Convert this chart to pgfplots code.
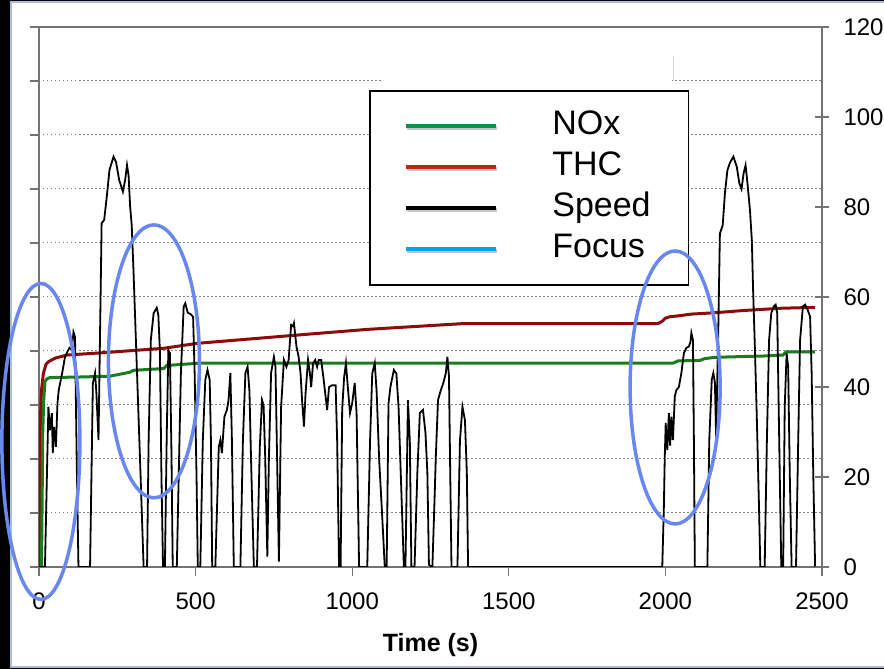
\documentclass[border=0pt]{standalone}
\usepackage{pgfplots}
\usepackage{pgfplotstable}
\pgfplotsset{compat=1.18}
\usepackage{fontspec}
\setmainfont{Liberation Sans}
\definecolor{noxc}{RGB}{25,125,30}
\definecolor{thcc}{RGB}{140,12,12}
\definecolor{legnox}{RGB}{16,144,72}
\definecolor{legthc}{RGB}{192,36,12}
\definecolor{legfoc}{RGB}{0,160,240}
\definecolor{ellc}{RGB}{105,135,240}
\definecolor{framec}{RGB}{165,190,220}
\definecolor{axc}{RGB}{115,115,115}
\definecolor{gridc}{RGB}{130,130,130}

\pgfplotstableread{
t v
0 0
19 0
30 35.6
35 30.4
41 34.2
44 25.3
48 31.1
54 26.7
59 36.4
63 39.3
74 43.1
83 46.7
97 48.7
105 48.2
110 52.2
115 51.1
121 20.9
126 0
163 0
172 40.9
179 43.1
183 39
190 28.2
200 76.4
208 77.1
216 82
225 88.2
238 91.2
246 90
256 86
268 83.4
275 86
281 89.3
286 87
291 80.1
296 76
302 65.3
313 43.1
324 21
334 0
345 0
350 28
357 50.4
366 56.4
376 57.6
381 56
386 48
391 20
396 0
402 0
408 30
413 48.2
418 47.5
423 25
427 0
440 0
453 43
462 57.9
467 58.6
475 56.5
484 56.2
492 55.6
497 43
503 20
507 0
515 0
523 28
531 41.6
538 43.8
545 41.6
549 28
553 0
563 0
574 26.7
579 28.2
584 25.3
592 33.4
600 34.9
605 37
611 43.1
616 28
622 0
643 0
651 28
659 43.1
666 44.5
672 39
677 24
686 0
696 0
705 26.7
712 37.1
717 36
722 25
729 2.3
734 24
741 43.1
750 46.7
755 44.5
761 21
766 1.2
773 35.6
782 46
790 44.5
797 46
805 53.8
811 53.5
814 54.2
822 49
829 46.7
835 43.1
840 37
846 31.2
851 38.5
859 46
865 43
869 40
875 45.3
882 46
888 44.5
893 46
901 46
909 41.6
914 38.5
920 34.9
926 40
936 40.4
947 40.4
952 28
958 0
963 0
968 35
974 42
980 45.3
986 40
993 34.2
1000 36.4
1008 40.9
1014 34.2
1022 0
1048 0
1057 28
1064 43
1072 45.3
1078 39
1086 24
1096 11
1104 0
1110 0
1116 36.4
1122 40
1133 43.8
1141 43
1148 35.6
1155 20.9
1165 0
1170 0
1178 37.1
1184 28
1189 0
1199 0
1208 20.9
1216 34.2
1226 34.9
1234 29.8
1240 20.9
1245 0.5
1256 0
1262 13
1267 24.5
1274 37.1
1283 39.3
1291 40.9
1299 43.1
1304 46.7
1309 42.3
1313 20.9
1317 0
1336 0
1344 28
1352 35.6
1360 32.6
1366 20.9
1370 0
1990 0
1995 13
1998 24.5
2001 32
2006 26
2011 34.2
2015 27
2019 33.4
2024 28.2
2030 37.9
2035 39.3
2043 40
2051 43.1
2059 47.5
2067 48.7
2075 49
2080 50
2083 52
2088 50.4
2091 28
2094 0
2134 0
2140 28
2148 41.6
2153 43.1
2158 41
2162 29
2166 43.1
2169 53.4
2174 74.1
2183 76
2190 83
2198 88.2
2206 89.8
2217 91.2
2228 88.9
2236 85.3
2243 84
2250 87.6
2256 89.3
2262 85.3
2270 79.3
2276 72.6
2280 61.6
2285 50.4
2291 35.6
2299 13
2303 0
2317 0
2324 28
2331 50.4
2338 56.4
2346 57.9
2352 58.3
2357 56.4
2360 43
2365 21
2370 0
2376 0
2381 35.6
2387 47.5
2392 44.5
2397 21
2403 0
2417 0
2424 28
2430 50.4
2439 57.9
2446 58.3
2454 57.2
2462 55.6
2467 43
2472 21
2478 0
}\speedtab

\pgfplotstableread{
t v
8 0
10 15
12 30
15 37
19 41.2
25 41.8
35 42.1
120 42.2
227 42.4
291 43.3
301 43.7
398 44.1
408 44.8
514 45.3
2025 45.3
2040 45.8
2110 45.9
2125 46.3
2160 46.6
2320 46.9
2375 47.1
2385 47.8
2478 47.8
}\noxtab

\pgfplotstableread{
t v
1 0
2 25
4 30.4
6 36
8 39.3
14 43
22 45
30 45.6
51 46.4
89 47.1
200 47.6
398 48.6
505 49.7
835 51.6
1048 52.8
1357 54.1
1976 54.1
1990 54.6
2000 55.3
2013 55.6
2040 55.8
2083 56.2
2157 56.5
2250 57
2370 57.5
2478 57.7
}\thctab

\begin{document}
\begin{tikzpicture}[x=1pt,y=1pt]
\useasboundingbox (0,0) rectangle (884,669);
\fill[black] (0,0) rectangle (884,669);
\fill[white] (11,2) rectangle (884,667);
\draw[framec,line width=1.2pt] (11,2) rectangle (890,667);

\begin{axis}[
  at={(39pt,102pt)}, anchor=south west,
  scale only axis, width=783pt, height=540pt,
  xmin=0, xmax=2500, ymin=0, ymax=120,
  axis line style={axc, line width=1.2pt},
  xtick={0,500,...,2500},
  ytick={0,12,...,120},
  yticklabels={},
  xtick pos=bottom, ytick pos=left,
  tick align=outside,
  major tick length=9pt,
  tick style={axc, line width=1.2pt},
  ymajorgrids,
  grid style={gridc, line width=1pt, dash pattern=on 1.5pt off 2.5pt},
  /pgf/number format/assume math mode=true,
  /pgf/number format/set thousands separator={},
  xticklabel style={font=\fontsize{24}{28}\selectfont, yshift=-13pt},
  xlabel={\textbf{Time (s)}},
  xlabel style={font=\fontsize{25}{30}\selectfont, at={(axis description cs:0.5,0)}, anchor=north, yshift=-63pt},
  legend style={at={(0.4215,0.8833)}, anchor=north west, draw=black, line width=1.6pt,
    fill=white, font=\fontsize{34}{40}\selectfont,
    inner xsep=34pt, inner ysep=16pt, row sep=2pt,
    nodes={inner sep=4pt, text height=24pt, text depth=7pt},
    /tikz/every odd column/.style={column sep=49pt}},
  legend cell align=left,
  legend image code/.code={
    \draw[gray!45, line width=4pt] (1.5pt,-2pt) -- (91.5pt,-2pt);
    \draw[#1, line width=4pt] (0pt,0pt) -- (90pt,0pt);},
]
\fill[white] (axis cs:1095,106.3) rectangle (axis cs:2021,109.6);
\draw[gray!30, line width=0.8pt] (axis cs:2024,108) -- (axis cs:2024,113.6);
\addplot[thcc, line width=3pt, forget plot] table[x=t,y=v] {\thctab};
\addplot[noxc, line width=3pt, forget plot] table[x=t,y=v] {\noxtab};
\addplot[black, line width=1.8pt, forget plot] table[x=t,y=v] {\speedtab};
\addlegendimage{legnox}
\addlegendentry{NOx}
\addlegendimage{legthc}
\addlegendentry{THC}
\addlegendimage{black}
\addlegendentry{Speed}
\addlegendimage{legfoc}
\addlegendentry{Focus}
\end{axis}

\begin{axis}[
  at={(39pt,102pt)}, anchor=south west,
  scale only axis, width=783pt, height=540pt,
  xmin=0, xmax=2500, ymin=0, ymax=120,
  clip=false,
  axis x line=none,
  axis y line*=right,
  axis line style={axc, line width=1.2pt},
  ytick={0,20,...,120},
  tick align=center,
  major tick length=14pt,
  tick style={axc, line width=1.2pt},
  /pgf/number format/assume math mode=true,
  yticklabel style={font=\fontsize{24}{28}\selectfont, xshift=11pt},
]
\draw[ellc, line width=3.5pt] (axis cs:6,27.9) ellipse [x radius=39pt, y radius=158pt];
\draw[ellc, line width=3.5pt] (axis cs:367,45.7) ellipse [x radius=45.5pt, y radius=136.5pt];
\draw[ellc, line width=3.5pt] (axis cs:2031,39.9) ellipse [x radius=45pt, y radius=136.5pt];
\end{axis}
\end{tikzpicture}
\end{document}
